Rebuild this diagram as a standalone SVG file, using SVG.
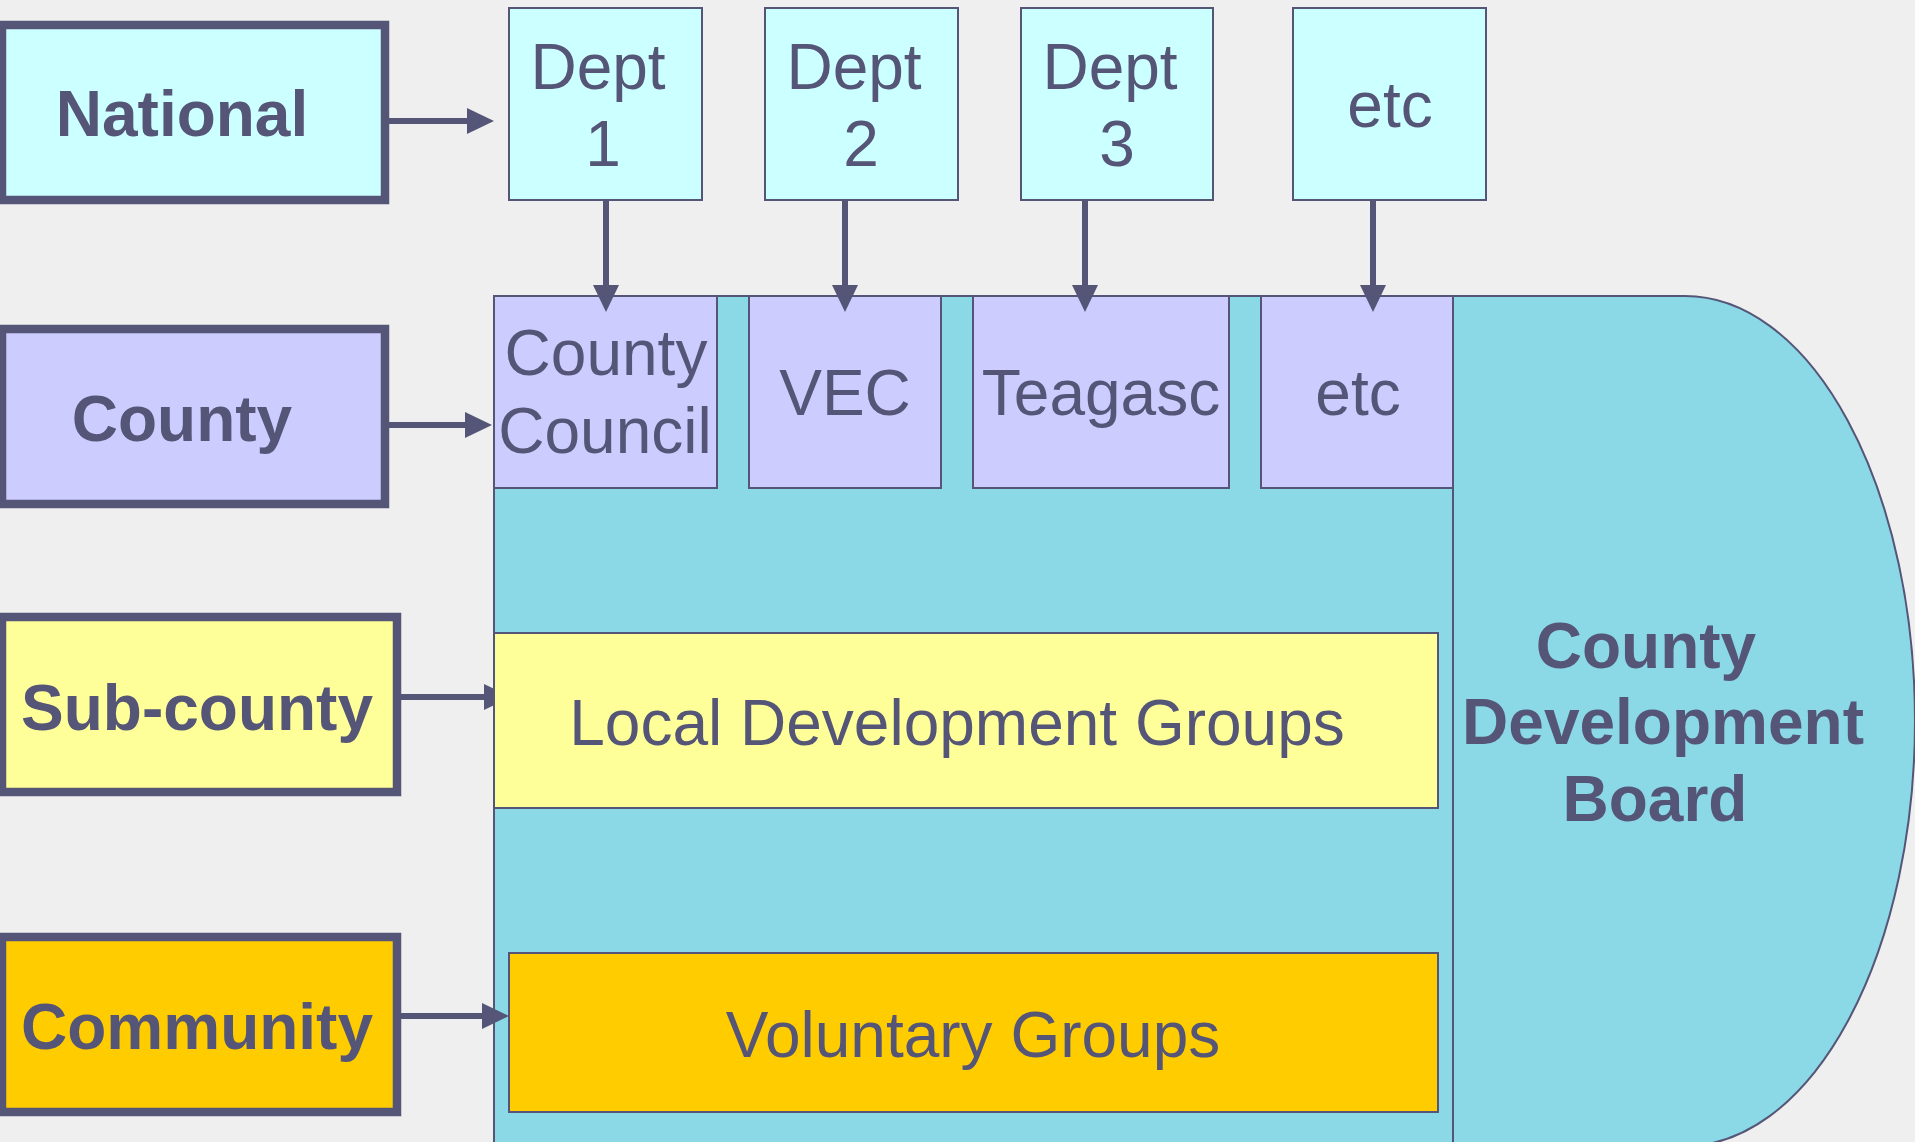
<svg xmlns="http://www.w3.org/2000/svg" width="1915" height="1142" viewBox="0 0 1915 1142">
<style>
.lvl{stroke:#555577;stroke-width:8.5}
.box{stroke:#555577;stroke-width:2}
.cyan{fill:#CCFFFF}
.purple{fill:#CCCCFF}
.yellow{fill:#FFFF99}
.gold{fill:#FFCC00}
.teal{fill:#8BD8E6}
.t{font-family:"Liberation Sans",Arial,sans-serif;fill:#555577;text-anchor:middle;font-size:64px}
.b{font-weight:bold}
.lab{font-size:64px}
.conn{stroke:#555577;stroke-width:6;fill:none;marker-end:url(#ah)}
</style>
<defs>
<marker id="ah" viewBox="0 0 27 26" refX="5" refY="13" markerWidth="27" markerHeight="26" markerUnits="userSpaceOnUse" orient="auto">
<path d="M0,0 L27,13 L0,26 Z" fill="#555577"/>
</marker>
</defs>
<rect x="0" y="0" width="1915" height="1142" fill="#EFEFEF"/>

<g id="area">
<rect class="teal box" x="494" y="296" width="959" height="870"/>
</g>
<g id="board">
<path class="teal box" d="M1453,296 L1685,296 A230,425 0 0 1 1685,1146 L1453,1146 Z"/>
<text class="t b" font-size="63.5"><tspan x="1646" y="668">County</tspan><tspan x="1663" y="744">Development</tspan><tspan x="1655" y="821">Board</tspan></text>
</g>

<g id="national">
<rect class="cyan lvl" x="2" y="25" width="383" height="175"/>
<text class="t b lab" x="182" y="136">National</text>
</g>
<g id="county">
<rect class="purple lvl" x="2" y="329" width="383" height="175"/>
<text class="t b lab" x="182" y="441">County</text>
</g>
<g id="subcounty">
<rect class="yellow lvl" x="2" y="617" width="395" height="175"/>
<text class="t b lab" x="197" y="730">Sub-county</text>
</g>
<g id="community">
<rect class="gold lvl" x="2" y="937" width="395" height="175"/>
<text class="t b lab" x="197" y="1049">Community</text>
</g>

<g id="dept1">
<rect class="cyan box" x="509" y="8" width="193" height="192"/>
<text class="t" font-size="63"><tspan x="598" y="89">Dept</tspan><tspan x="603" y="166">1</tspan></text>
</g>
<g id="dept2">
<rect class="cyan box" x="765" y="8" width="193" height="192"/>
<text class="t" font-size="63"><tspan x="854" y="89">Dept</tspan><tspan x="861" y="166">2</tspan></text>
</g>
<g id="dept3">
<rect class="cyan box" x="1021" y="8" width="192" height="192"/>
<text class="t" font-size="63"><tspan x="1110" y="89">Dept</tspan><tspan x="1117" y="166">3</tspan></text>
</g>
<g id="etc-national">
<rect class="cyan box" x="1293" y="8" width="193" height="192"/>
<text class="t" x="1390" y="127">etc</text>
</g>

<g id="county-council">
<rect class="purple box" x="494" y="296" width="223" height="192"/>
<text class="t"><tspan x="606" y="375">County</tspan><tspan x="605" y="453">Council</tspan></text>
</g>
<g id="vec">
<rect class="purple box" x="749" y="296" width="192" height="192"/>
<text class="t" x="845" y="415">VEC</text>
</g>
<g id="teagasc">
<rect class="purple box" x="973" y="296" width="256" height="192"/>
<text class="t" x="1101" y="415" font-size="66">Teagasc</text>
</g>
<g id="etc-county">
<rect class="purple box" x="1261" y="296" width="192" height="192"/>
<text class="t" x="1358" y="415">etc</text>
</g>

<g id="connectors">
<line class="conn" x1="389" y1="121" x2="472" y2="121"/>
<line class="conn" x1="389" y1="425" x2="470" y2="425"/>
<line class="conn" x1="401" y1="697" x2="489" y2="697"/>
<line class="conn" x1="401" y1="1016" x2="487" y2="1016"/>
<line class="conn" x1="606" y1="200" x2="606" y2="290"/>
<line class="conn" x1="845" y1="200" x2="845" y2="290"/>
<line class="conn" x1="1085" y1="200" x2="1085" y2="290"/>
<line class="conn" x1="1373" y1="200" x2="1373" y2="290"/>
</g>

<g id="ldg">
<rect class="yellow box" x="494" y="633" width="944" height="175"/>
<text class="t" x="957" y="745">Local Development Groups</text>
</g>
<g id="voluntary">
<rect class="gold box" x="509" y="953" width="929" height="159"/>
<text class="t" x="973" y="1057">Voluntary Groups</text>
</g>
</svg>
